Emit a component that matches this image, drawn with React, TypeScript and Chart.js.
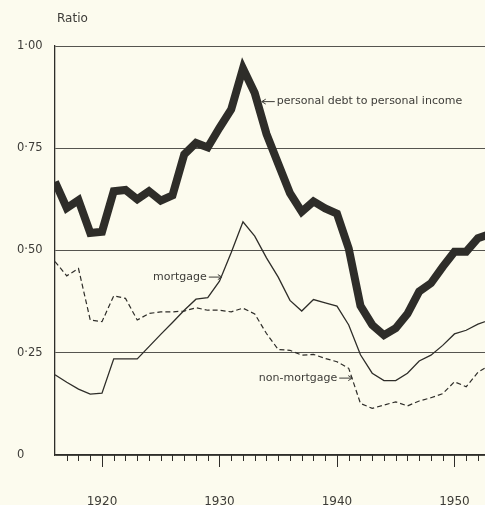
import React, { useEffect, useRef } from 'react';
import { Chart, registerables } from 'chart.js';

Chart.register(...registerables);

const years = [
  1916, 1917, 1918, 1919, 1920, 1921, 1922, 1923, 1924, 1925,
  1926, 1927, 1928, 1929, 1930, 1931, 1932, 1933, 1934, 1935,
  1936, 1937, 1938, 1939, 1940, 1941, 1942, 1943, 1944, 1945,
  1946, 1947, 1948, 1949, 1950, 1951, 1952, 1953,
];

const totalDebtRatio = [
  0.668, 0.604, 0.623, 0.543, 0.546, 0.645, 0.648, 0.625, 0.645, 0.622,
  0.635, 0.735, 0.763, 0.752, 0.800, 0.845, 0.945, 0.885, 0.785, 0.712,
  0.640, 0.595, 0.620, 0.603, 0.590, 0.505, 0.365, 0.318, 0.293, 0.310,
  0.345, 0.400, 0.420, 0.460, 0.497, 0.497, 0.530, 0.540,
];

const mortgageRatio = [
  0.196, 0.178, 0.161, 0.149, 0.151, 0.235, 0.235, 0.235, 0.265, 0.295,
  0.324, 0.354, 0.381, 0.385, 0.425, 0.495, 0.570, 0.535, 0.482, 0.435,
  0.378, 0.352, 0.380, 0.372, 0.364, 0.318, 0.245, 0.200, 0.182, 0.182,
  0.200, 0.230, 0.244, 0.268, 0.296, 0.305, 0.320, 0.330,
];

const nonMortgageRatio = [
  0.473, 0.438, 0.456, 0.330, 0.326, 0.389, 0.383, 0.330, 0.346, 0.350,
  0.350, 0.352, 0.360, 0.354, 0.354, 0.350, 0.359, 0.345, 0.297, 0.258,
  0.256, 0.244, 0.246, 0.236, 0.228, 0.212, 0.126, 0.114, 0.122, 0.130,
  0.120, 0.132, 0.140, 0.150, 0.179, 0.167, 0.202, 0.220,
];

const yTickValues = [0, 0.25, 0.5, 0.75, 1];
const yTickLabels = ['0', '0·25', '0·50', '0·75', '1·00'];
const xTickValues = [1920, 1930, 1940, 1950];
const xTickLabels = ['1920', '1930', '1940', '1950'];
const axisTitle = 'Ratio';

const annotations = [
  { text: 'personal debt to personal income', tipYear: 1933.6, tipValue: 0.864, side: 'right' },
  { text: 'mortgage', tipYear: 1930.2, tipValue: 0.435, side: 'left' },
  { text: 'non-mortgage', tipYear: 1941.3, tipValue: 0.188, side: 'left' },
];

const INK = '#2e2d29';
const TEXT = '#3d3c38';
const FONT = '"DejaVu Sans", sans-serif';
const BG = '#fcfbee';

const decorPlugin = {
  id: 'decor',
  afterDraw(chart: any) {
    const { ctx, chartArea, scales } = chart;
    const xs = scales.x;
    const ys = scales.y;
    ctx.save();
    // year ticks below the axis
    ctx.strokeStyle = INK;
    ctx.lineWidth = 1;
    for (let yr = Math.ceil(xs.min) + 1; yr <= Math.floor(xs.max); yr++) {
      const px = Math.round(xs.getPixelForValue(yr)) + 0.5;
      const len = yr % 10 === 0 ? 12 : 6;
      ctx.beginPath();
      ctx.moveTo(px, chartArea.bottom);
      ctx.lineTo(px, chartArea.bottom + len);
      ctx.stroke();
    }
    // axis title
    ctx.fillStyle = TEXT;
    ctx.font = `12px ${FONT}`;
    ctx.textAlign = 'left';
    ctx.textBaseline = 'middle';
    ctx.fillText(axisTitle, chartArea.left + 2, 19);

    // annotations with arrows
    ctx.font = `11px ${FONT}`;
    ctx.lineWidth = 1;
    ctx.strokeStyle = TEXT;
    for (const a of annotations) {
      const tx = xs.getPixelForValue(a.tipYear);
      const ty = ys.getPixelForValue(a.tipValue);
      const dir = a.side === 'right' ? 1 : -1;
      const tail = tx + dir * 13;
      ctx.beginPath();
      ctx.moveTo(tail, ty);
      ctx.lineTo(tx, ty);
      ctx.moveTo(tx + dir * 4, ty - 2.5);
      ctx.lineTo(tx, ty);
      ctx.lineTo(tx + dir * 4, ty + 2.5);
      ctx.stroke();
      ctx.textAlign = a.side === 'right' ? 'left' : 'right';
      ctx.fillText(a.text, tail + dir * 2, ty);
    }
    ctx.restore();
  },
};

export default function App() {
  const canvasRef = useRef<HTMLCanvasElement | null>(null);

  useEffect(() => {
    document.body.style.margin = '0';
    document.body.style.background = BG;
    const canvas = canvasRef.current;
    if (!canvas) return;
    const toPoints = (vals: number[]) => years.map((yr, i) => ({ x: yr, y: vals[i] }));
    const chart = new Chart(canvas, {
      type: 'line',
      data: {
        datasets: [
          {
            label: 'personal debt to personal income',
            data: toPoints(totalDebtRatio),
            borderColor: INK,
            borderWidth: 8,
            borderJoinStyle: 'miter',
            pointRadius: 0,
            tension: 0,
            clip: 0,
          },
          {
            label: 'mortgage',
            data: toPoints(mortgageRatio),
            borderColor: INK,
            borderWidth: 1.3,
            pointRadius: 0,
            tension: 0,
            clip: 0,
          },
          {
            label: 'non-mortgage',
            data: toPoints(nonMortgageRatio),
            borderColor: INK,
            borderWidth: 1.2,
            borderDash: [5, 3],
            pointRadius: 0,
            tension: 0,
            clip: 0,
          },
        ],
      },
      options: {
        animation: false,
        responsive: false,
        events: [],
        layout: { padding: { left: 17, top: 46, right: 0, bottom: 0 } },
        plugins: {
          legend: { display: false },
          tooltip: { enabled: false },
          title: { display: false },
        },
        scales: {
          x: {
            type: 'linear',
            min: 1916,
            max: 1952.6,
            grid: { display: false },
            border: { display: true, color: INK, width: 1.3 },
            afterBuildTicks: (s: any) => {
              s.ticks = xTickValues.map((v) => ({ value: v }));
            },
            afterFit: (s: any) => {
              s.height = 50;
              s.paddingLeft = 0;
              s.paddingRight = 0;
            },
            ticks: {
              padding: 32,
              color: TEXT,
              font: { family: FONT, size: 12 },
              maxRotation: 0,
              autoSkip: false,
              callback: (v: any) => {
                const i = xTickValues.indexOf(Number(v));
                return i >= 0 ? xTickLabels[i] : '';
              },
            },
          },
          y: {
            type: 'linear',
            min: 0,
            max: 1,
            grid: { display: true, color: '#55544f', lineWidth: 1, drawTicks: false },
            border: { display: true, color: INK, width: 1.3 },
            afterBuildTicks: (s: any) => {
              s.ticks = yTickValues.map((v) => ({ value: v }));
            },
            afterFit: (s: any) => {
              s.width = 38;
            },
            ticks: {
              crossAlign: 'far',
              color: TEXT,
              font: { family: FONT, size: 11.5 },
              callback: (v: any) => {
                const i = yTickValues.indexOf(Number(v));
                return i >= 0 ? yTickLabels[i] : '';
              },
            },
          },
        },
      },
      plugins: [decorPlugin],
    } as any);
    return () => chart.destroy();
  }, []);

  return (
    <div style={{ width: 485, height: 505, background: BG }}>
      <canvas ref={canvasRef} width={485} height={505} style={{ display: 'block' }} />
    </div>
  );
}
